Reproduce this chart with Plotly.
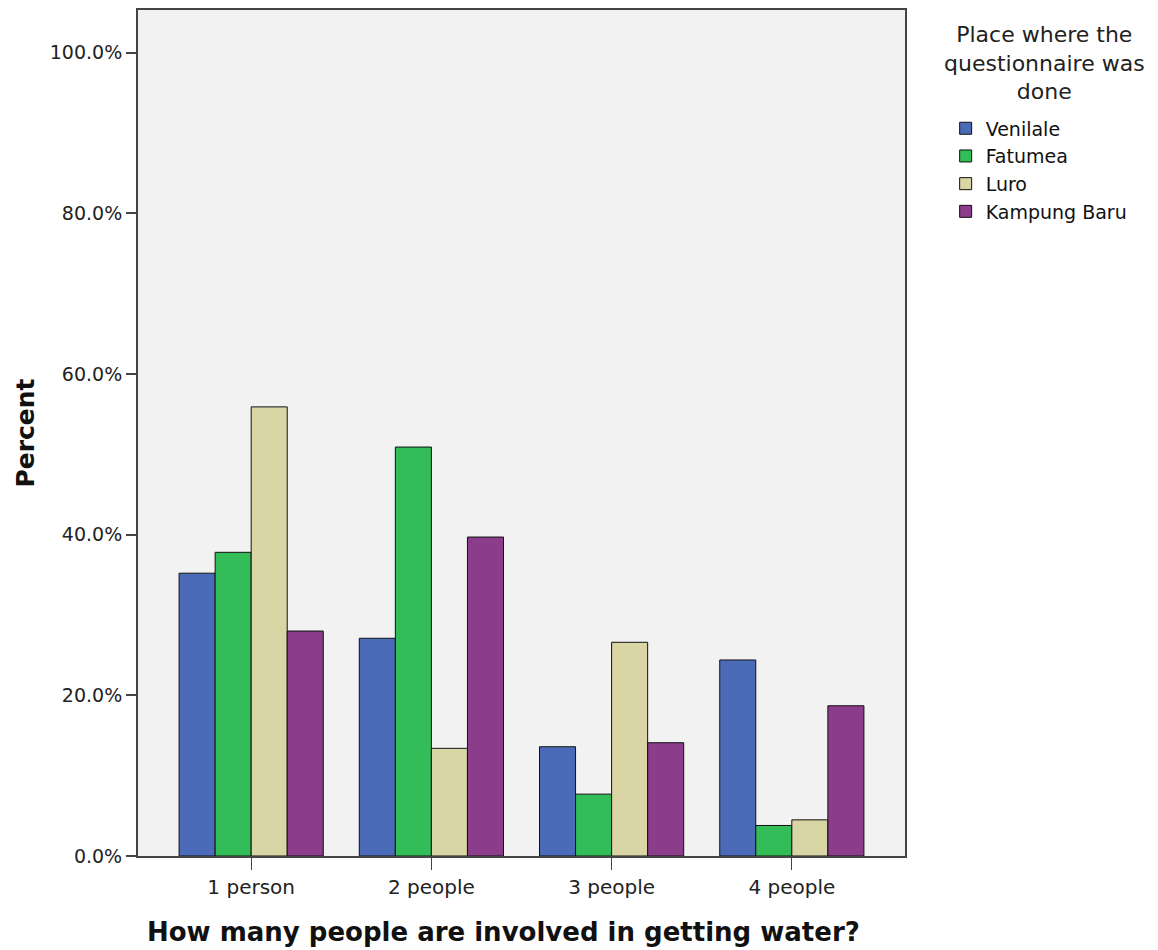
import plotly.graph_objects as go

categories = ["1 person", "2 people", "3 people", "4 people"]
series_names = ["Venilale", "Fatumea", "Luro", "Kampung Baru"]
venilale = [35.2, 27.1, 13.6, 24.4]
fatumea = [37.8, 50.9, 7.7, 3.8]
luro = [55.9, 13.4, 26.6, 4.5]
kampung_baru = [28.0, 39.7, 14.1, 18.7]
colors = ["#4b6bb8", "#33bd58", "#d9d5a5", "#8b3d8c"]
y_ticks = [0, 20, 40, 60, 80, 100]
legend_title = "Place where the<br>questionnaire was<br>done"
x_title = "How many people are involved in getting water?"

fig = go.Figure()
for name, vals, col in zip(series_names, [venilale, fatumea, luro, kampung_baru], colors):
    fig.add_trace(go.Bar(x=categories, y=vals, name=name,
                         marker=dict(color=col, line=dict(color="#111111", width=1))))

font_family = "DejaVu Sans, Arial, sans-serif"
fig.update_layout(
    width=1150, height=942,
    margin=dict(l=130, r=253, t=0, b=94),
    barmode="group", bargap=0.2, bargroupgap=0,
    plot_bgcolor="#f2f2f2", paper_bgcolor="white",
    font=dict(family=font_family, color="#222222", size=19),
    legend=dict(
        x=1.053, y=0.8825, xanchor="left", yanchor="top",
        font=dict(size=19, color="#111111"),
        tracegroupgap=0,
    ),
)
fig.add_annotation(
    text=legend_title, xref="paper", yref="paper", x=1.1825, y=0.937,
    xanchor="center", yanchor="middle", align="center", showarrow=False,
    font=dict(size=22, color="#222222"),
)
fig.add_annotation(
    text=f"<b>{x_title}</b>", xref="paper", yref="paper", x=0.476, y=-0.0896,
    xanchor="center", yanchor="middle", showarrow=False,
    font=dict(size=26, color="#111111"),
)
fig.update_xaxes(
    type="category", range=[-0.628, 3.628],
    showline=True, linecolor="#444444", linewidth=2, mirror=True,
    ticks="outside", ticklen=12, tickcolor="#444444", tickwidth=1,
    tickfont=dict(size=20, color="#222222"),
    showgrid=False,
)
fig.update_yaxes(
    range=[0, 105.3], tickvals=y_ticks, ticktext=[f"{v:.1f}%" for v in y_ticks],
    showline=True, linecolor="#444444", linewidth=2, mirror=True,
    ticks="outside", ticklen=10, tickcolor="#444444", tickwidth=2,
    tickfont=dict(size=19, color="#222222"),
    title=dict(text="<b>Percent</b>", font=dict(size=25, color="#111111"), standoff=8),
    showgrid=False, zeroline=False,
)
fig.write_html("out.html")
